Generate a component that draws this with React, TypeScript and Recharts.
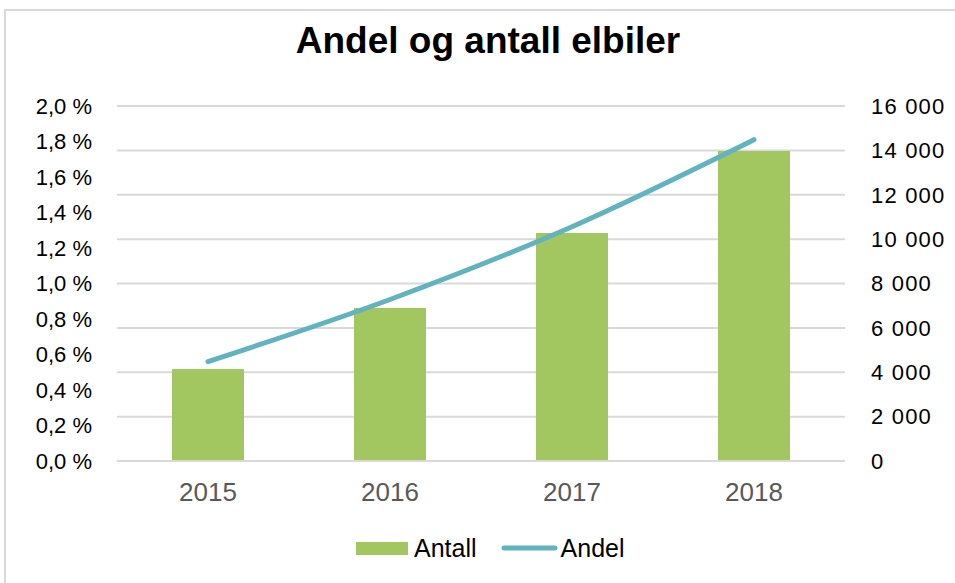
import React from 'react'
import {
  ComposedChart,
  Bar,
  Line,
  XAxis,
  YAxis,
  CartesianGrid,
  Legend,
} from 'recharts'

/* ---------- data ---------- */

const years = ['2015', '2016', '2017', '2018']
const antall = [4150, 6900, 10280, 13970]
const andel = [0.0056, 0.0091, 0.0132, 0.0181]
const andelTicks = [0, 0.002, 0.004, 0.006, 0.008, 0.01, 0.012, 0.014, 0.016, 0.018, 0.02]
const antallTicks = [0, 2000, 4000, 6000, 8000, 10000, 12000, 14000, 16000]

const data = years.map((year, i) => ({ year, antall: antall[i], andel: andel[i] }))

const FONT = '"Liberation Sans", Arial, sans-serif'
const GREEN = '#A2C761'
const TEAL = '#63B3BE'
const GRID = '#D9D9D9'

const fmtPct = (v: number) => (v * 100).toFixed(1).replace('.', ',') + ' %'
const fmtNum = (v: number) => String(v).replace(/\B(?=(\d{3})+(?!\d))/g, ' ')

/* ---------- legend ---------- */

function ChartLegend() {
  return (
    <div
      style={{
        height: 30,
        display: 'flex',
        alignItems: 'center',
        paddingLeft: 356,
        fontFamily: FONT,
        fontSize: 25,
        color: '#000',
      }}
    >
      <span style={{ width: 52, height: 13, background: GREEN, display: 'inline-block' }} />
      <span style={{ marginLeft: 6 }}>Antall</span>
      <svg width={57} height={10} style={{ marginLeft: 24 }}>
        <line x1={3} y1={5} x2={54} y2={5} stroke={TEAL} strokeWidth={5} strokeLinecap="round" />
      </svg>
      <span style={{ marginLeft: 3 }}>Andel</span>
    </div>
  )
}

/* ---------- chart ---------- */

export default function App() {
  return (
    <div
      style={{
        position: 'absolute',
        left: 0,
        top: 0,
        width: 955,
        height: 583,
        overflow: 'hidden',
        background: '#fff',
      }}
    >
      <div
        style={{
          position: 'absolute',
          left: 4,
          top: 9,
          width: 1000,
          height: 700,
          border: `2px solid ${GRID}`,
        }}
      />
      <div
        style={{
          position: 'absolute',
          left: 0,
          top: 23,
          width: 976,
          textAlign: 'center',
          fontFamily: FONT,
          fontWeight: 'bold',
          fontSize: 37,
          lineHeight: '36px',
          color: '#000',
        }}
      >
        Andel og antall elbiler
      </div>
      <div style={{ position: 'absolute', left: 0, top: 0 }}>
        <ComposedChart
          width={955}
          height={583}
          data={data}
          margin={{ top: 106, right: 0, bottom: 20, left: 0 }}
          barCategoryGap={0}
        >
          <CartesianGrid yAxisId="right" vertical={false} stroke={GRID} strokeWidth={2} />
          <XAxis
            dataKey="year"
            height={72}
            tickLine={false}
            axisLine={{ stroke: GRID, strokeWidth: 2 }}
            tickSize={0}
            tickMargin={22}
            tick={{ fill: '#595959', fontSize: 26, fontFamily: FONT }}
          />
          <YAxis
            yAxisId="left"
            orientation="left"
            width={117}
            domain={[0, 0.02]}
            ticks={andelTicks}
            interval={0}
            tickFormatter={fmtPct}
            tickLine={false}
            axisLine={false}
            tickSize={0}
            tickMargin={25}
            tick={{ fill: '#000', fontSize: 22, fontFamily: FONT }}
          />
          <YAxis
            yAxisId="right"
            orientation="right"
            width={110}
            domain={[0, 16000]}
            ticks={antallTicks}
            interval={0}
            tickFormatter={fmtNum}
            tickLine={false}
            axisLine={false}
            tickSize={0}
            tickMargin={26}
            tick={{ fill: '#000', fontSize: 22, fontFamily: FONT, letterSpacing: 1.2 }}
          />
          <Legend verticalAlign="bottom" height={30} content={<ChartLegend />} wrapperStyle={{ left: 0, width: 955 }} />
          <Bar yAxisId="right" dataKey="antall" name="Antall" fill={GREEN} barSize={72} isAnimationActive={false} />
          <Line
            yAxisId="left"
            type="monotone"
            dataKey="andel"
            name="Andel"
            stroke={TEAL}
            strokeWidth={5}
            strokeLinecap="round"
            dot={false}
            activeDot={false}
            isAnimationActive={false}
          />
        </ComposedChart>
      </div>
    </div>
  )
}
